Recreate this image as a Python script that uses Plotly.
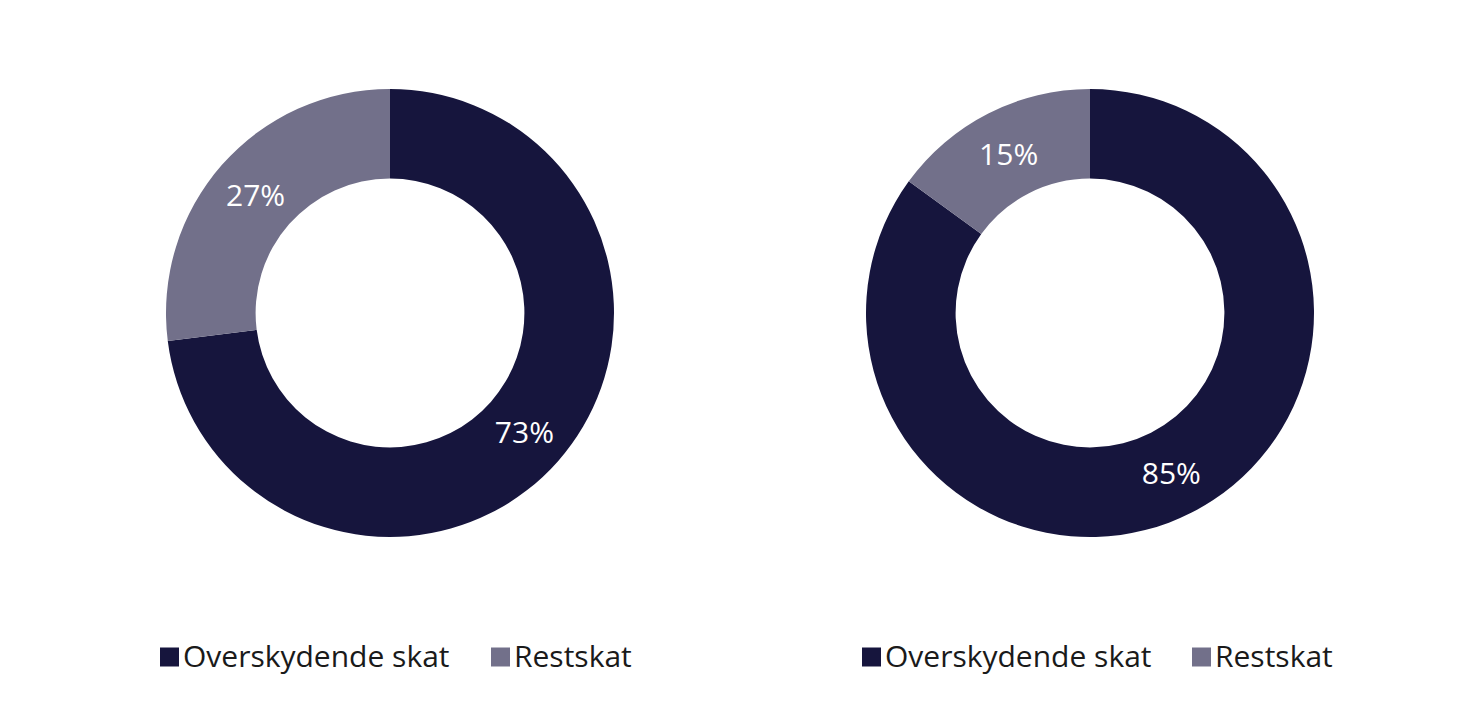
import plotly.graph_objects as go

labels = ["Overskydende skat", "Restskat"]
colors = ["#16153d", "#72708a"]
left_values = [73, 27]
right_values = [85, 15]

W, H = 1480, 714
FONT = "Open Sans"

def px_x(x):
    return x / W

def px_y(y):
    return 1 - y / H

fig = go.Figure()

R = 224
centers = [(390, 313), (1090, 313)]
for (cx, cy), vals in zip(centers, [left_values, right_values]):
    fig.add_trace(go.Pie(
        labels=labels,
        values=vals,
        marker=dict(colors=colors, line=dict(width=0)),
        hole=0.6,
        sort=False,
        direction="clockwise",
        rotation=0,
        textinfo="percent",
        texttemplate="%{percent:.0%}",
        textposition="inside",
        insidetextorientation="horizontal",
        textfont=dict(color="white", size=30, family=FONT),
        domain=dict(x=[px_x(cx - R), px_x(cx + R)], y=[px_y(cy + R), px_y(cy - R)]),
        showlegend=False,
        hoverinfo="label+percent",
    ))

# custom legends below each donut
legend_rows = [
    [(160, labels[0], colors[0]), (491, labels[1], colors[1])],
    [(862, labels[0], colors[0]), (1192, labels[1], colors[1])],
]
shapes = []
annotations = []
ly = 657
sq = 19
for row in legend_rows:
    for x0, lab, col in row:
        shapes.append(dict(type="rect", xref="paper", yref="paper",
                           x0=px_x(x0), x1=px_x(x0 + sq),
                           y0=px_y(ly + sq / 2), y1=px_y(ly - sq / 2),
                           fillcolor=col, line=dict(width=0)))
        annotations.append(dict(xref="paper", yref="paper", x=px_x(x0 + sq + 2), y=px_y(ly - 2),
                                xanchor="left", yanchor="middle", showarrow=False,
                                text=lab, font=dict(size=30, color="#1a1a1a", family=FONT)))

fig.update_layout(
    width=W, height=H,
    margin=dict(l=0, r=0, t=0, b=0),
    paper_bgcolor="white",
    plot_bgcolor="white",
    shapes=shapes,
    annotations=annotations,
    font=dict(family=FONT),
)

fig.write_html("out.html", config={"displayModeBar": False},
               post_script="document.body.style.margin='0';document.body.style.overflow='hidden';")
